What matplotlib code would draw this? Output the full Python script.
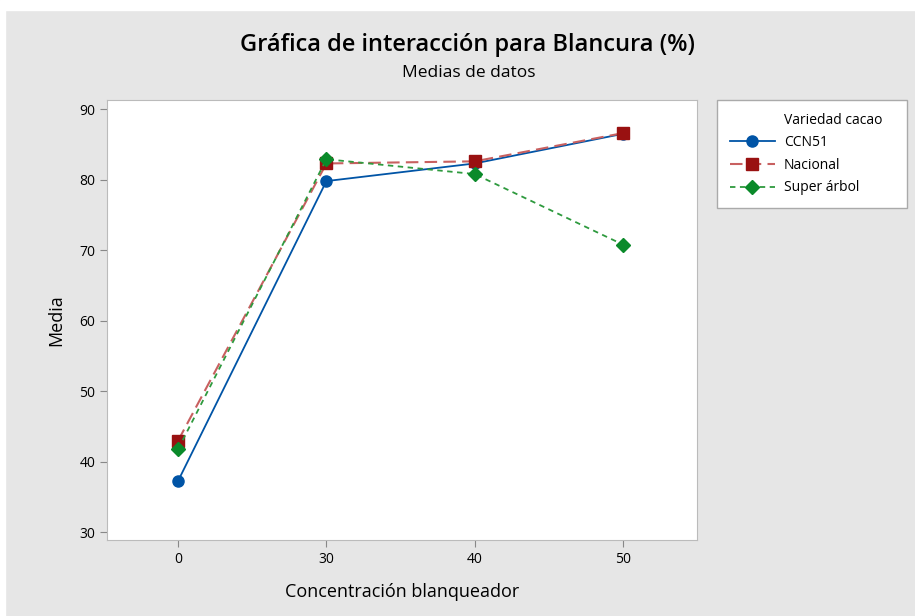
import matplotlib.pyplot as plt
from matplotlib.lines import Line2D

plt.rcParams['font.family'] = ['Open Sans', 'DejaVu Sans']

# Data
concentracion = ['0', '30', '40', '50']
ccn51 = [37.3, 79.8, 82.3, 86.5]
nacional = [43.0, 82.3, 82.6, 86.6]
super_arbol = [41.8, 82.9, 80.8, 70.8]

fig = plt.figure(figsize=(9.15, 6.16), dpi=100)
fig.patch.set_facecolor('#e6e6e6')
# white strips at top and left of the screenshot
fig.add_artist(plt.Rectangle((0, 1 - 10/616), 1, 10/616, transform=fig.transFigure,
                             color='white', zorder=-1))
fig.add_artist(plt.Rectangle((0, 0), 5/915, 1, transform=fig.transFigure,
                             color='white', zorder=-1))

ax = fig.add_axes([107/915, 1 - 540/616, (697-107)/915, (540-100)/616])
x = range(len(concentracion))

ax.plot(x, ccn51, color='#0054a6', lw=1.3, marker='o', ms=8, label='CCN51', zorder=3)
ax.plot(x, nacional, color='#c86060', lw=1.5, ls=(0, (6, 3)), marker='s', ms=8,
        mfc='#991111', mec='#991111', label='Nacional', zorder=4)
ax.plot(x, super_arbol, color='#2e9a3e', lw=1.3, ls=(0, (3, 2.5)), marker='D', ms=7.5,
        mfc='#0a8a2a', mec='#0a8a2a', label='Super árbol', zorder=5)

ax.set_xlim(-0.48, 3.5)
ax.set_ylim(28.9, 91.3)
ax.set_xticks(list(x))
ax.set_xticklabels(concentracion)
ax.set_yticks([30, 40, 50, 60, 70, 80, 90])
ax.tick_params(labelsize=10, color='#888888', length=5, direction='out')
for s in ax.spines.values():
    s.set_color('#bbbbbb')

ax.set_xlabel('Concentración blanqueador', fontsize=13, labelpad=12)
ax.set_ylabel('Media', fontsize=13, labelpad=10)

fig.text(468/915, 1 - 45/616, 'Gráfica de interacción para Blancura (%)',
         ha='center', va='center', fontsize=17, fontweight='semibold')
fig.text(469/915, 1 - 73/616, 'Medias de datos',
         ha='center', va='center', fontsize=12.5, fontweight='medium')

handles = [
    Line2D([], [], color='none', label='Variedad cacao'),
    Line2D([], [], color='#0054a6', lw=1.3, marker='o', ms=8, label='CCN51'),
    Line2D([], [], color='#c86060', lw=1.5, ls=(0, (6, 3)), marker='s', ms=8,
           mfc='#991111', mec='#991111', label='Nacional'),
    Line2D([], [], color='#2e9a3e', lw=1.3, ls=(0, (3, 2.5)), marker='D', ms=7.5,
           mfc='#0a8a2a', mec='#0a8a2a', label='Super árbol'),
]
leg = fig.legend(handles=handles, loc='upper left',
                 bbox_to_anchor=(717/915, 1 - 100/616, 190/915, 0.0), mode='expand',
                 fontsize=10, frameon=True, fancybox=False, edgecolor='#aaaaaa',
                 facecolor='white', framealpha=1,
                 handlelength=3.3, handletextpad=0.6, labelspacing=0.55, borderpad=0.9,
                 borderaxespad=0)
leg.get_frame().set_linewidth(1)

fig.savefig('out.png', dpi=100, facecolor=fig.get_facecolor())
